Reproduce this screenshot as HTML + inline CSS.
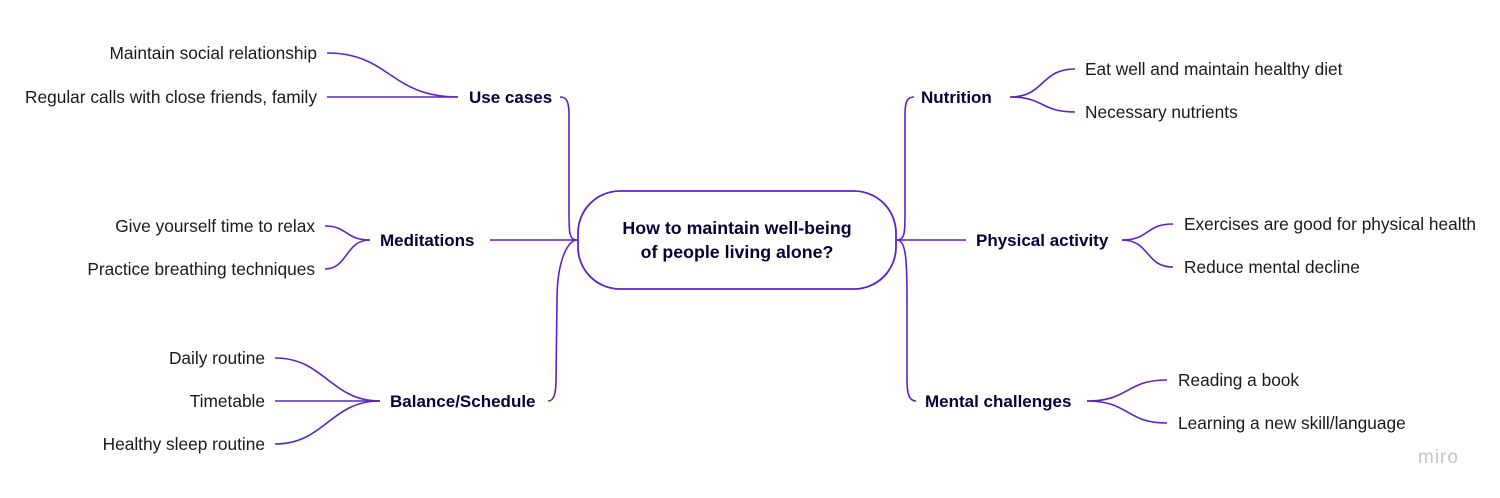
<!DOCTYPE html>
<html><head><style>
body{margin:0;background:#fff;}
svg{display:block;font-family:"Liberation Sans",sans-serif;}
.l{font-size:17.3px;fill:#1a1a1a;}
.b{font-size:17px;font-weight:bold;fill:#050038;}
.c{font-size:17.8px;font-weight:bold;fill:#050038;}
path,line{stroke:#5b22c6;stroke-width:1.6;fill:none;}
</style></head><body>
<svg width="1500" height="498" viewBox="0 0 1500 498">
<rect x="578" y="191" width="318" height="98" rx="42" fill="#fff" stroke="#5b22c6" stroke-width="1.8"/>
<text class="c" x="737" y="234" text-anchor="middle">How to maintain well-being</text>
<text class="c" x="737" y="258" text-anchor="middle">of people living alone?</text>

<!-- left trunk -->
<path d="M577,240 C568,240 569,230 569,200 L569,115 C569,100 566,97 560,97"/>
<line x1="490" y1="240" x2="577" y2="240"/>
<path d="M577,240 C568,240 557,260 557,300 L556,380 C556,396 553,401 548,401"/>
<!-- right trunk -->
<path d="M897,240 C906,240 905,230 905,200 L905,115 C905,100 908,97 914,97"/>
<line x1="897" y1="240" x2="966" y2="240"/>
<path d="M897,240 C906,240 907,260 907,300 L907,380 C907,396 910,401 916,401"/>

<!-- labels -->
<text class="b" x="469" y="103">Use cases</text>
<text class="b" x="380" y="246">Meditations</text>
<text class="b" x="390" y="407">Balance/Schedule</text>
<text class="b" x="921" y="103">Nutrition</text>
<text class="b" x="976" y="246">Physical activity</text>
<text class="b" x="925" y="407">Mental challenges</text>

<!-- use cases leaves -->
<path d="M327,53 C390,53 390,97 458,97"/>
<line x1="327" y1="97" x2="458" y2="97"/>
<text class="l" x="317" y="59" text-anchor="end">Maintain social relationship</text>
<text class="l" x="317" y="103" text-anchor="end">Regular calls with close friends, family</text>
<!-- meditations -->
<path d="M325,226 C348,226 345,240 370,240"/>
<path d="M325,269 C348,269 345,240 370,240"/>
<text class="l" x="315" y="232" text-anchor="end">Give yourself time to relax</text>
<text class="l" x="315" y="275" text-anchor="end">Practice breathing techniques</text>
<!-- balance -->
<path d="M275,358 C325,358 330,401 380,401"/>
<line x1="275" y1="401" x2="380" y2="401"/>
<path d="M275,444 C325,444 330,401 380,401"/>
<text class="l" x="265" y="364" text-anchor="end">Daily routine</text>
<text class="l" x="265" y="407" text-anchor="end">Timetable</text>
<text class="l" x="265" y="450" text-anchor="end">Healthy sleep routine</text>
<!-- nutrition -->
<path d="M1010,97 C1045,97 1040,69 1075,69"/>
<path d="M1010,97 C1045,97 1040,112 1075,112"/>
<text class="l" x="1085" y="75">Eat well and maintain healthy diet</text>
<text class="l" x="1085" y="118">Necessary nutrients</text>
<!-- physical -->
<path d="M1122,240 C1150,240 1145,224 1173,224"/>
<path d="M1122,240 C1150,240 1145,267 1173,267"/>
<text class="l" x="1184" y="230">Exercises are good for physical health</text>
<text class="l" x="1184" y="273">Reduce mental decline</text>
<!-- mental -->
<path d="M1087,401 C1130,401 1125,380 1167,380"/>
<path d="M1087,401 C1130,401 1125,423 1167,423"/>
<text class="l" x="1178" y="386">Reading a book</text>
<text class="l" x="1178" y="429">Learning a new skill/language</text>

<text x="1418" y="463" style="font-size:19px;fill:#c4c3cf;letter-spacing:1px">miro</text>
</svg>
</body></html>
